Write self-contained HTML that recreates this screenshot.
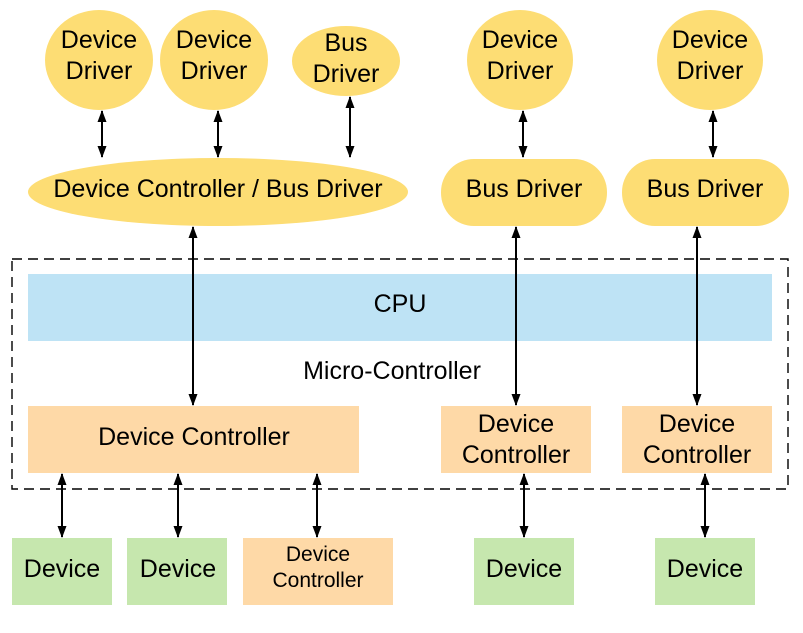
<!DOCTYPE html>
<html><head><style>body{margin:0;background:#fff}</style></head><body>
<svg width="803" height="628" xmlns="http://www.w3.org/2000/svg" font-family="Liberation Sans, sans-serif" fill="#000">
<defs><marker id="a" markerWidth="12" markerHeight="12" refX="11" refY="6" orient="auto-start-reverse" markerUnits="userSpaceOnUse"><path d="M0,1.5 L12,6 L0,10.5 z" fill="#000"/></marker></defs>
<rect x="12" y="259" width="776" height="230" fill="none" stroke="#000" stroke-width="1.4" stroke-dasharray="10,6"/>
<g fill="#fddd74">
<ellipse cx="99" cy="60" rx="54" ry="50"/>
<ellipse cx="214" cy="60" rx="54" ry="50"/>
<ellipse cx="346" cy="61" rx="54" ry="35"/>
<ellipse cx="520" cy="60" rx="53" ry="50"/>
<ellipse cx="710" cy="60" rx="53" ry="50"/>
<ellipse cx="218" cy="192" rx="190" ry="34"/>
<rect x="441" y="159" width="166" height="67" rx="33"/>
<rect x="622" y="159" width="167" height="67" rx="33"/>
</g>
<rect x="28" y="274" width="744" height="67" fill="#bee3f5"/>
<g fill="#fed9a7">
<rect x="28" y="406" width="331" height="67"/>
<rect x="441" y="406" width="150" height="67"/>
<rect x="622" y="406" width="150" height="67"/>
<rect x="243" y="538" width="150" height="67"/>
</g>
<g fill="#c6e7ae">
<rect x="12" y="538" width="100" height="67"/>
<rect x="127" y="538" width="100" height="67"/>
<rect x="474" y="538" width="100" height="67"/>
<rect x="655" y="538" width="100" height="67"/>
</g>
<g stroke="#000" stroke-width="2" marker-start="url(#a)" marker-end="url(#a)">
<line x1="102" y1="111" x2="102" y2="157"/>
<line x1="218" y1="111" x2="218" y2="157"/>
<line x1="350" y1="97" x2="350" y2="157"/>
<line x1="523" y1="111" x2="523" y2="157"/>
<line x1="713" y1="111" x2="713" y2="157"/>
<line x1="193" y1="227" x2="193" y2="405"/>
<line x1="516" y1="227" x2="516" y2="405"/>
<line x1="697" y1="227" x2="697" y2="405"/>
<line x1="62" y1="474" x2="62" y2="537"/>
<line x1="178" y1="474" x2="178" y2="537"/>
<line x1="317" y1="474" x2="317" y2="537"/>
<line x1="524" y1="474" x2="524" y2="537"/>
<line x1="705" y1="474" x2="705" y2="537"/>
</g>
<g font-size="25" text-anchor="middle">
<text x="99" y="48">Device</text><text x="99" y="79">Driver</text>
<text x="346" y="51">Bus</text><text x="346" y="82">Driver</text>
<text x="214" y="48">Device</text><text x="214" y="79">Driver</text>
<text x="520" y="48">Device</text><text x="520" y="79">Driver</text>
<text x="710" y="48">Device</text><text x="710" y="79">Driver</text>
<text x="218" y="197">Device Controller / Bus Driver</text>
<text x="524" y="197">Bus Driver</text>
<text x="705" y="197">Bus Driver</text>
<text x="400" y="312">CPU</text>
<text x="392" y="379">Micro-Controller</text>
<text x="194" y="445">Device Controller</text>
<text x="516" y="432">Device</text><text x="516" y="463">Controller</text>
<text x="697" y="432">Device</text><text x="697" y="463">Controller</text>
<text x="62" y="577">Device</text>
<text x="178" y="577">Device</text>
<text x="524" y="577">Device</text>
<text x="705" y="577">Device</text>
</g>
<g font-size="21" text-anchor="middle">
<text x="318" y="561">Device</text><text x="318" y="587">Controller</text>
</g>
</svg>
</body></html>
